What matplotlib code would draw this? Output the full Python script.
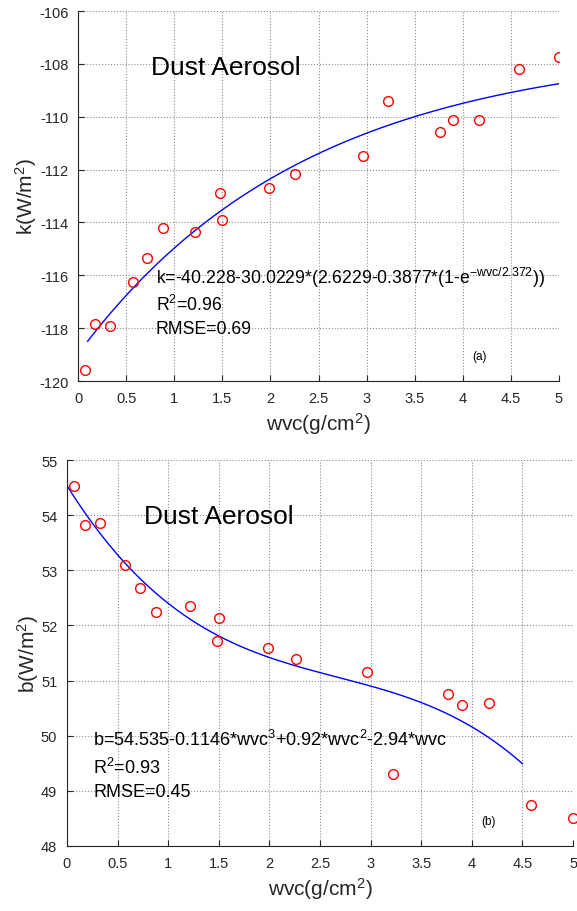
import numpy as np
import matplotlib
matplotlib.use('Agg')
import matplotlib.pyplot as plt

plt.rcParams['font.family'] = ['Liberation Sans', 'DejaVu Sans']
plt.rcParams['mathtext.fontset'] = 'custom'
plt.rcParams['mathtext.rm'] = 'Liberation Sans'
plt.rcParams['mathtext.it'] = 'Liberation Sans'

# observations (wvc in g/cm^2)
wvc = [0.07, 0.18, 0.33, 0.57, 0.72, 0.88, 1.22, 1.48, 1.50, 1.99,
       2.26, 2.96, 3.22, 3.76, 3.90, 4.17, 4.58, 5.00]
k_obs = [-119.6, -117.85, -117.9, -116.27, -115.33, -114.22, -114.35, -112.87, -113.92, -112.71,
         -112.17, -111.5, -109.42, -110.57, -110.12, -110.12, -108.18, -107.75]
b_obs = [54.53, 53.83, 53.85, 53.10, 52.68, 52.24, 52.36, 51.72, 52.14, 51.59,
         51.40, 51.15, 49.31, 50.76, 50.56, 50.59, 48.74, 48.51]

# fitted models as printed on the chart
k_coef = [-40.228, 30.0229, 2.6229, 0.3877, 2.372]
b_coef = [54.535, -0.1146, 0.92, -2.94]
k_range = [0.1, 5.0]
b_range = [0.0, 4.5]

k_text = ['k=-40.228-30.0229*(2.6229-0.3877*(1-e$^{-wvc/2.372}$))', 'R$^2$=0.96', 'RMSE=0.69']
b_text = ['b=54.535-0.1146*wvc$^3$+0.92*wvc$^2$-2.94*wvc', 'R$^2$=0.93', 'RMSE=0.45']

axcol = '#262626'

fig = plt.figure(figsize=(5.77, 9.12), dpi=100)
ax1 = fig.add_axes([0.1352, 0.5811, 0.8336, 0.4057])
ax2 = fig.add_axes([0.1161, 0.0713, 0.8770, 0.4232])

xk = np.linspace(k_range[0], k_range[1], 200)
yk = k_coef[0] - k_coef[1] * (k_coef[2] - k_coef[3] * (1 - np.exp(-xk / k_coef[4])))
xb = np.linspace(b_range[0], b_range[1], 200)
yb = b_coef[0] + b_coef[1] * xb**3 + b_coef[2] * xb**2 + b_coef[3] * xb


def style(ax, ylim, yticks, ylabel):
    ax.set_xlim(0, 5)
    ax.set_ylim(*ylim)
    ax.set_xticks(np.arange(0, 5.01, 0.5))
    ax.set_xticklabels(['0', '0.5', '1', '1.5', '2', '2.5', '3', '3.5', '4', '4.5', '5'])
    ax.set_yticks(yticks)
    ax.grid(True, ls=':', color='#8c8c8c', lw=0.8)
    ax.set_axisbelow(True)
    for s in ['top', 'right']:
        ax.spines[s].set_visible(False)
    for s in ['left', 'bottom']:
        ax.spines[s].set_color(axcol)
        ax.spines[s].set_linewidth(0.8)
    ax.tick_params(direction='in', length=4, width=0.8, colors=axcol, labelsize=10.5, pad=7)
    ax.set_xlabel('wvc(g/cm$^2$)', fontsize=15, color=axcol, labelpad=4)
    ax.set_ylabel(ylabel, fontsize=15, color=axcol, labelpad=0)


ax1.plot(xk, yk, color='blue', lw=1)
ax1.plot(wvc, k_obs, 'o', mfc='none', mec='red', ms=7, mew=1)
style(ax1, (-120, -106), np.arange(-120, -105, 2), 'k(W/m$^2$)')
ax1.set_yticklabels([str(v) for v in range(-120, -105, 2)])
ax1.text(0.76, -108.1, 'Dust Aerosol', fontsize=19, va='center')
for t, yy in zip(k_text, [-116.06, -117.09, -118.03]):
    ax1.text(0.81, yy, t, fontsize=12.7, va='center')
ax1.text(4.1, -119.05, '(a)', fontsize=8.5, va='center')

ax2.plot(xb, yb, color='blue', lw=1)
ax2.plot(wvc, b_obs, 'o', mfc='none', mec='red', ms=7, mew=1, clip_on=False)
style(ax2, (48, 55), np.arange(48, 55.1, 1), 'b(W/m$^2$)')
ax2.text(0.76, 53.98, 'Dust Aerosol', fontsize=19, va='center')
for t, yy in zip(b_text, [49.94, 49.43, 48.98]):
    ax2.text(0.26, yy, t, fontsize=13, va='center')
ax2.text(4.09, 48.45, '(b)', fontsize=8.5, va='center')

fig.savefig('out.png', dpi=100)
